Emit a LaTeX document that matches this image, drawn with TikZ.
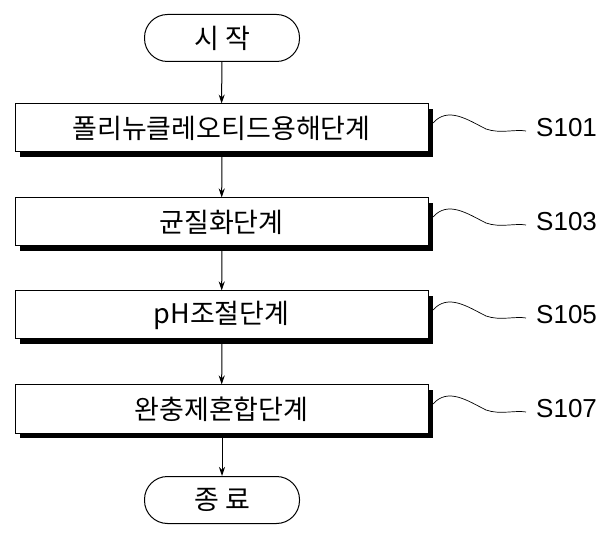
\documentclass[tikz,border=0pt]{standalone}
\usepackage{fontspec}
\setmainfont{Noto Sans CJK KR}
\usetikzlibrary{shadows,arrows.meta}
\begin{document}
\begin{tikzpicture}[x=1pt,y=-1pt,
 box/.style={draw,line width=1pt,fill=white,minimum width=413pt,minimum height=48pt,font=\fontsize{27}{30}\selectfont,drop shadow={shadow xshift=5pt,shadow yshift=-5pt,opacity=1,fill=black}},
 term/.style={draw,line width=1pt,fill=white,rounded corners=23pt,minimum width=155pt,minimum height=47pt,font=\fontsize{27}{30}\selectfont},
 arr/.style={-{Stealth[length=9pt,width=6pt]},line width=1pt},
 lab/.style={font=\fontsize{26}{30}\selectfont\fontspec{Liberation Sans},anchor=west,inner sep=0pt}]
\useasboundingbox (0,0) rectangle (613,534);
\node[term] (s) at (222,38) {시 작};
\node[box] (b1) at (221.5,128) {폴리뉴클레오티드용해단계};
\node[box] (b2) at (221.5,222) {균질화단계};
\node[box] (b3) at (221.5,315) {pH조절단계};
\node[box] (b4) at (221.5,409) {완충제혼합단계};
\node[term] (e) at (222,500) {종 료};
\draw[arr] (s) -- (b1);
\draw[arr] (b1.south-|s) -- (b2);
\draw[arr] (b2.south-|s) -- (b3);
\draw[arr] (b3.south-|s) -- (b4);
\draw[arr] (b4.south-|s) -- (e);
\foreach \n/\y/\t in {1/128/S101,2/222/S103,3/315/S105,4/409/S107}{
 \node[lab] (l\n) at (536,\y) {\t};
 \coordinate (c\n) at (433,\y-5);
 \draw[line width=0.7pt] (c\n) .. controls (448,\y-22) and (468,\y-8) .. (486,\y+1)
   .. controls (500,\y+6) and (515,\y+1) .. ([xshift=-10pt,yshift=-3pt]l\n.west);
}
\end{tikzpicture}
\end{document}
